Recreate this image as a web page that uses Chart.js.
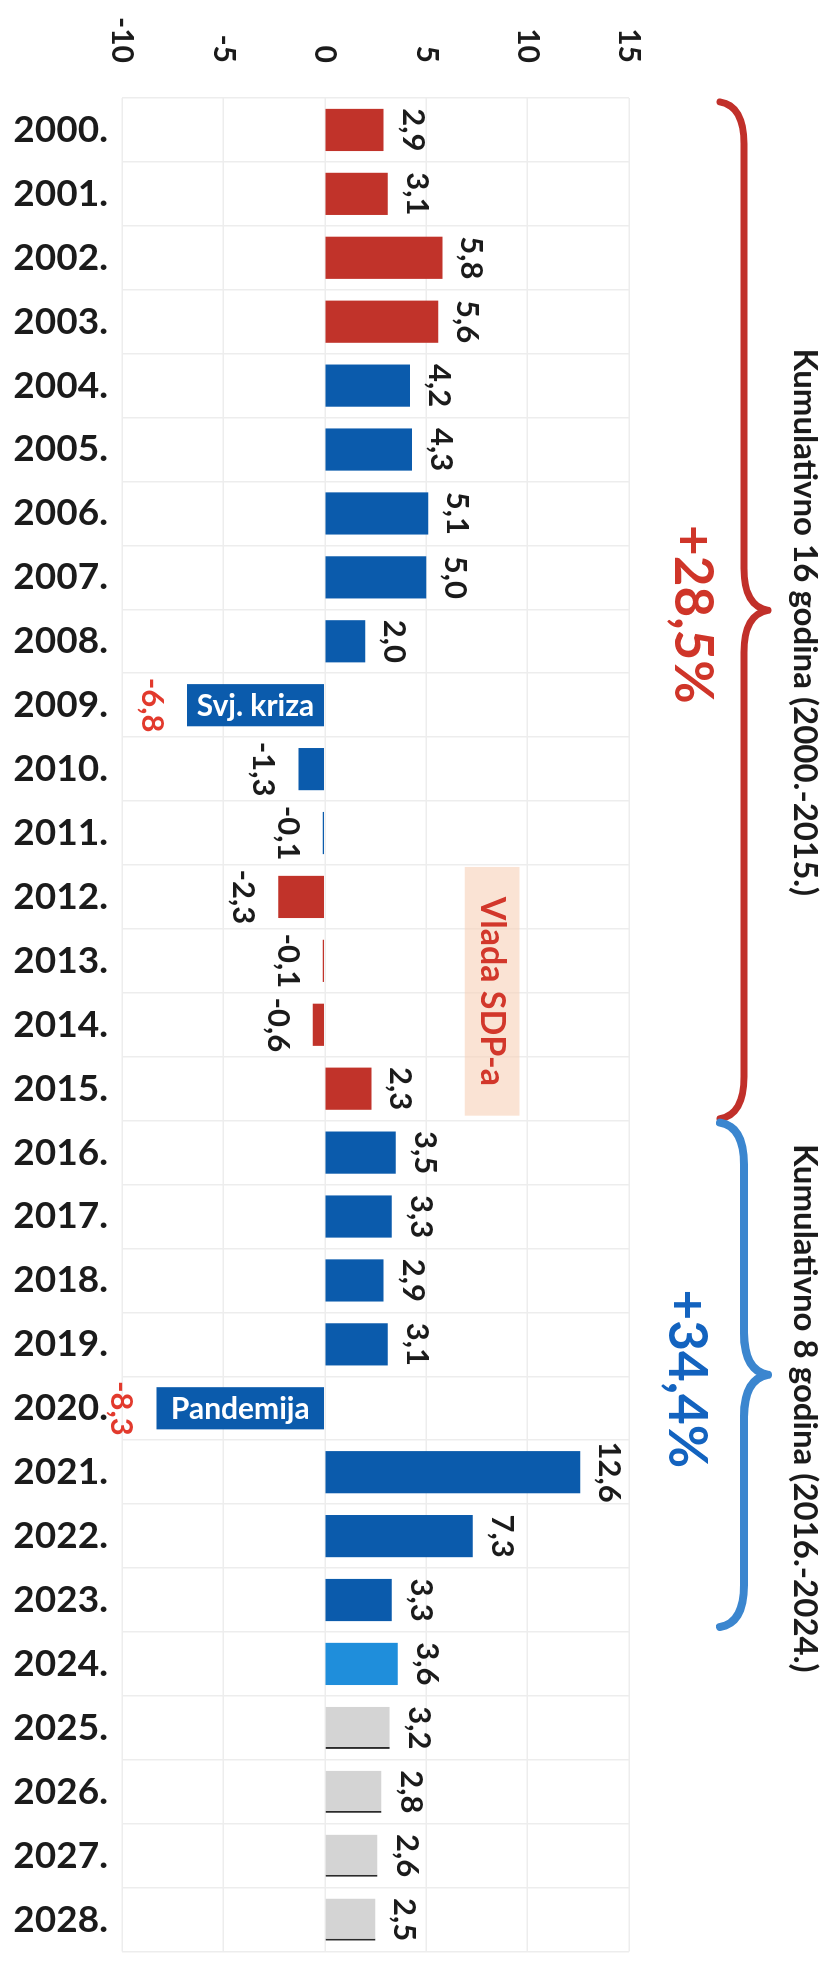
<!DOCTYPE html>
<html>
<head>
<meta charset="utf-8">
<script src="https://cdn.jsdelivr.net/npm/chart.js@4.4.1/dist/chart.umd.min.js"></script>
<style>
  html, body { margin: 0; padding: 0; background: #fff; overflow: hidden; }
  body { width: 830px; height: 1972px; position: relative; }
  /* the chart is drawn upright and turned a quarter clockwise, like the scanned page */
  #wrap { position: absolute; left: 0; top: 0; width: 1978px; height: 830px;
          transform-origin: 0 0; transform: translateX(830px) rotate(90deg); }
</style>
</head>
<body>
<div id="wrap"><canvas id="gdp" width="1978" height="830"></canvas></div>
<script>
// real GDP growth, %
const years = ['2000.', '2001.', '2002.', '2003.', '2004.', '2005.', '2006.', '2007.', '2008.', '2009.',
  '2010.', '2011.', '2012.', '2013.', '2014.', '2015.', '2016.', '2017.', '2018.', '2019.',
  '2020.', '2021.', '2022.', '2023.', '2024.', '2025.', '2026.', '2027.', '2028.'];
const growth = [2.9, 3.1, 5.8, 5.6, 4.2, 4.3, 5.1, 5.0, 2.0, -6.8,
  -1.3, -0.1, -2.3, -0.1, -0.6, 2.3, 3.5, 3.3, 2.9, 3.1,
  -8.3, 12.6, 7.3, 3.3, 3.6, 3.2, 2.8, 2.6, 2.5];
const yTicks = [-10, -5, 0, 5, 10, 15];
const barNotes = { '2009.': 'Svj. kriza', '2020.': 'Pandemija' };
const govLabel = 'Vlada SDP-a';
const periods = [
  { total: '+28,5%', text: 'Kumulativno 16 godina (2000.-2015.)' },
  { total: '+34,4%', text: 'Kumulativno 8 godina (2016.-2024.)' }
];

const RED = '#c1332a';
const BLUE = '#0b5bac';
const barColors = years.map((yr, i) => {
  if (i <= 3 || (i >= 12 && i <= 15)) return RED;
  if (i === 24) return '#1f8edb';
  if (i >= 25) return '#d4d4d4';
  return BLUE;
});

const fmt = v => v.toFixed(1).replace('.', ',');

const annotate = {
  id: 'annotate',
  beforeDatasetsDraw(chart) {
    const { ctx, scales: { x, y } } = chart;
    // government band 2012-2015
    const l = x.getPixelForValue(12) - 30, r = x.getPixelForValue(15) + 27;
    const t = y.getPixelForValue(9.6), b = y.getPixelForValue(6.9);
    ctx.save();
    ctx.fillStyle = 'rgba(247, 208, 184, 0.6)';
    ctx.fillRect(l, t, r - l, b - t);
    ctx.fillStyle = '#d2372b';
    ctx.font = 'bold 34px Lato';
    ctx.textAlign = 'center';
    ctx.textBaseline = 'middle';
    ctx.fillText(govLabel, (l + r) / 2, (t + b) / 2);
    ctx.restore();
  },
  afterDatasetsDraw(chart) {
    const { ctx, scales: { x } } = chart;
    const bars = chart.getDatasetMeta(0).data;
    ctx.save();
    bars.forEach((bar, i) => {
      const v = growth[i];
      const note = barNotes[years[i]];
      ctx.textAlign = 'center';
      ctx.textBaseline = 'alphabetic';
      ctx.font = 'bold 31px Lato';
      ctx.fillStyle = note ? '#e23a2d' : '#1b1b1b';
      if (v >= 0) ctx.fillText(fmt(v), bar.x, bar.y - 19);
      else ctx.fillText(fmt(v), bar.x, bar.y + 45);
      if (note) {
        ctx.save();
        ctx.translate(bar.x, (bar.y + bar.base) / 2);
        ctx.rotate(-Math.PI / 2);
        ctx.fillStyle = '#fff';
        ctx.font = 'bold 30px Lato';
        ctx.textBaseline = 'middle';
        ctx.fillText(note, 0, 1);
        ctx.restore();
      }
    });

    // braces over the two periods
    const brace = (xa, xb, color, w) => {
      const y0 = 110, y1 = 86, y2 = 62, xm = (xa + xb) / 2, r = 42;
      ctx.strokeStyle = color;
      ctx.lineWidth = w;
      ctx.lineCap = 'round';
      ctx.beginPath();
      ctx.moveTo(xa, y0);
      ctx.quadraticCurveTo(xa + 4, y1, xa + r, y1);
      ctx.lineTo(xm - r, y1);
      ctx.quadraticCurveTo(xm - 4, y1, xm, y2);
      ctx.moveTo(xm, y2);
      ctx.quadraticCurveTo(xm + 4, y1, xm + r, y1);
      ctx.lineTo(xb - r, y1);
      ctx.quadraticCurveTo(xb - 4, y1, xb, y0);
      ctx.stroke();
      return xm;
    };
    const m1 = brace(x.getPixelForValue(0) - 28, x.getPixelForValue(15) + 30, '#c1302a', 7);
    const m2 = brace(x.getPixelForValue(16) - 30, x.getPixelForValue(23) + 27, '#3b86cf', 8);

    ctx.textAlign = 'center';
    ctx.textBaseline = 'middle';
    ctx.font = 'bold 53px Lato';
    ctx.fillStyle = '#cf3529';
    ctx.fillText(periods[0].total, m1 + 4, 138);
    ctx.fillStyle = '#1363bf';
    ctx.fillText(periods[1].total, m2 + 4, 144);
    ctx.font = 'bold 33px Lato';
    ctx.fillStyle = '#1b1b1b';
    ctx.fillText(periods[0].text, m1 + 12, 25);
    ctx.fillText(periods[1].text, (x.getPixelForValue(16) + x.getPixelForValue(24)) / 2, 25);
    ctx.restore();
  }
};

new Chart(document.getElementById('gdp'), {
  type: 'bar',
  data: {
    labels: years,
    datasets: [{
      data: growth,
      backgroundColor: barColors,
      borderColor: years.map((yr, i) => i >= 25 ? '#2a2a2a' : 'rgba(0,0,0,0)'),
      borderWidth: years.map((yr, i) => i >= 25 ? { right: 2 } : 0),
      borderSkipped: false,
      categoryPercentage: 1,
      barPercentage: 0.66
    }]
  },
  options: {
    responsive: false,
    animation: false,
    layout: { padding: { top: 201, left: 0, right: 0, bottom: 0 } },
    plugins: { legend: { display: false }, tooltip: { enabled: false } },
    scales: {
      x: {
        grid: { color: '#ededed', lineWidth: 1.5, drawTicks: false },
        border: { display: false },
        ticks: {
          autoSkip: false, minRotation: 90, maxRotation: 90, padding: 14,
          color: '#1b1b1b', font: { family: 'Lato', size: 37, weight: 'bold' }
        },
        afterFit: s => { s.height = 122; }
      },
      y: {
        min: -10, max: 15,
        afterBuildTicks: s => { s.ticks = yTicks.map(v => ({ value: v })); },
        grid: { color: '#ededed', lineWidth: 1.5, drawTicks: false },
        border: { display: false },
        ticks: {
          padding: 35, color: '#1b1b1b',
          font: { family: 'Lato', size: 30, weight: 'bold' }
        },
        afterFit: s => { s.width = 98; }
      }
    }
  },
  plugins: [annotate]
});
</script>
</body>
</html>
